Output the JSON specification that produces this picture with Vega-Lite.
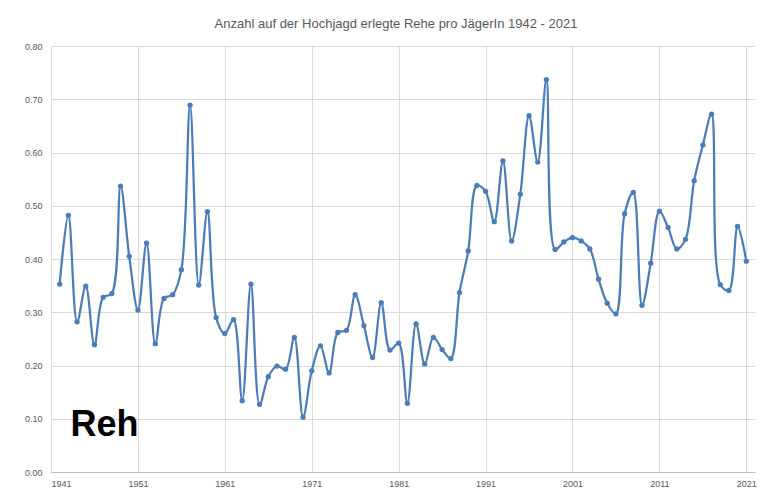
{
  "$schema": "https://vega.github.io/schema/vega-lite/v6.json",
  "width": 704,
  "height": 426,
  "autosize": {"type": "none"},
  "padding": {"left": 51, "top": 46, "right": 19, "bottom": 19},
  "background": "white",
  "title": {
    "text": "Anzahl auf der Hochjagd erlegte Rehe pro JägerIn 1942 - 2021",
    "font": "Liberation Sans",
    "fontSize": 13,
    "fontWeight": "normal",
    "color": "#595959",
    "anchor": "middle",
    "frame": "group",
    "dx": -7,
    "offset": 11
  },
  "config": {
    "view": {"stroke": null},
    "axis": {
      "labelFont": "Liberation Sans",
      "labelFontSize": 9,
      "labelColor": "#595959",
      "gridColor": "#d9d9d9",
      "gridWidth": 1,
      "ticks": false,
      "title": null
    }
  },
  "datasets": {
    "reh": [
      {"year": 1942, "value": 0.353},
      {"year": 1943, "value": 0.482},
      {"year": 1944, "value": 0.282},
      {"year": 1945, "value": 0.349},
      {"year": 1946, "value": 0.239},
      {"year": 1947, "value": 0.328},
      {"year": 1948, "value": 0.335},
      {"year": 1949, "value": 0.537},
      {"year": 1950, "value": 0.405},
      {"year": 1951, "value": 0.304},
      {"year": 1952, "value": 0.430},
      {"year": 1953, "value": 0.241},
      {"year": 1954, "value": 0.326},
      {"year": 1955, "value": 0.333},
      {"year": 1956, "value": 0.380},
      {"year": 1957, "value": 0.689},
      {"year": 1958, "value": 0.351},
      {"year": 1959, "value": 0.489},
      {"year": 1960, "value": 0.290},
      {"year": 1961, "value": 0.260},
      {"year": 1962, "value": 0.286},
      {"year": 1963, "value": 0.134},
      {"year": 1964, "value": 0.353},
      {"year": 1965, "value": 0.127},
      {"year": 1966, "value": 0.179},
      {"year": 1967, "value": 0.199},
      {"year": 1968, "value": 0.193},
      {"year": 1969, "value": 0.253},
      {"year": 1970, "value": 0.103},
      {"year": 1971, "value": 0.190},
      {"year": 1972, "value": 0.237},
      {"year": 1973, "value": 0.186},
      {"year": 1974, "value": 0.262},
      {"year": 1975, "value": 0.266},
      {"year": 1976, "value": 0.333},
      {"year": 1977, "value": 0.275},
      {"year": 1978, "value": 0.215},
      {"year": 1979, "value": 0.318},
      {"year": 1980, "value": 0.229},
      {"year": 1981, "value": 0.242},
      {"year": 1982, "value": 0.129},
      {"year": 1983, "value": 0.278},
      {"year": 1984, "value": 0.203},
      {"year": 1985, "value": 0.253},
      {"year": 1986, "value": 0.230},
      {"year": 1987, "value": 0.213},
      {"year": 1988, "value": 0.337},
      {"year": 1989, "value": 0.415},
      {"year": 1990, "value": 0.538},
      {"year": 1991, "value": 0.527},
      {"year": 1992, "value": 0.470},
      {"year": 1993, "value": 0.584},
      {"year": 1994, "value": 0.434},
      {"year": 1995, "value": 0.522},
      {"year": 1996, "value": 0.669},
      {"year": 1997, "value": 0.582},
      {"year": 1998, "value": 0.737},
      {"year": 1999, "value": 0.418},
      {"year": 2000, "value": 0.432},
      {"year": 2001, "value": 0.440},
      {"year": 2002, "value": 0.434},
      {"year": 2003, "value": 0.419},
      {"year": 2004, "value": 0.362},
      {"year": 2005, "value": 0.317},
      {"year": 2006, "value": 0.297},
      {"year": 2007, "value": 0.485},
      {"year": 2008, "value": 0.525},
      {"year": 2009, "value": 0.313},
      {"year": 2010, "value": 0.392},
      {"year": 2011, "value": 0.490},
      {"year": 2012, "value": 0.459},
      {"year": 2013, "value": 0.419},
      {"year": 2014, "value": 0.437},
      {"year": 2015, "value": 0.547},
      {"year": 2016, "value": 0.614},
      {"year": 2017, "value": 0.672},
      {"year": 2018, "value": 0.352},
      {"year": 2019, "value": 0.341},
      {"year": 2020, "value": 0.461},
      {"year": 2021, "value": 0.396}
    ],
    "label": [{"text": "Reh", "year": 1943.25, "value": 0.067}]
  },
  "layer": [
    {
      "data": {"name": "reh"},
      "mark": {"type": "line", "interpolate": "catmull-rom", "color": "#4a7ebb", "strokeWidth": 2.25},
      "encoding": {
        "x": {
          "field": "year",
          "type": "quantitative",
          "scale": {"domain": [1941, 2022], "nice": false, "zero": false},
          "axis": {
            "values": [1941, 1951, 1961, 1971, 1981, 1991, 2001, 2011, 2021],
            "format": "d",
            "grid": true,
            "domain": true,
            "domainColor": "#bfbfbf",
            "labelPadding": 7
          }
        },
        "y": {
          "field": "value",
          "type": "quantitative",
          "scale": {"domain": [0, 0.8], "nice": false},
          "axis": {
            "values": [0, 0.1, 0.2, 0.3, 0.4, 0.5, 0.6, 0.7, 0.8],
            "format": ".2f",
            "grid": true,
            "domain": false,
            "labelPadding": 9
          }
        }
      }
    },
    {
      "data": {"name": "reh"},
      "mark": {"type": "point", "filled": true, "color": "#4a7ebb", "opacity": 1, "size": 28},
      "encoding": {
        "x": {"field": "year", "type": "quantitative"},
        "y": {"field": "value", "type": "quantitative"}
      }
    },
    {
      "data": {"name": "label"},
      "mark": {"type": "text", "font": "Liberation Sans", "fontSize": 36, "fontWeight": "bold", "color": "#000000", "align": "left", "baseline": "alphabetic"},
      "encoding": {
        "x": {"field": "year", "type": "quantitative"},
        "y": {"field": "value", "type": "quantitative"},
        "text": {"field": "text"}
      }
    }
  ]
}
